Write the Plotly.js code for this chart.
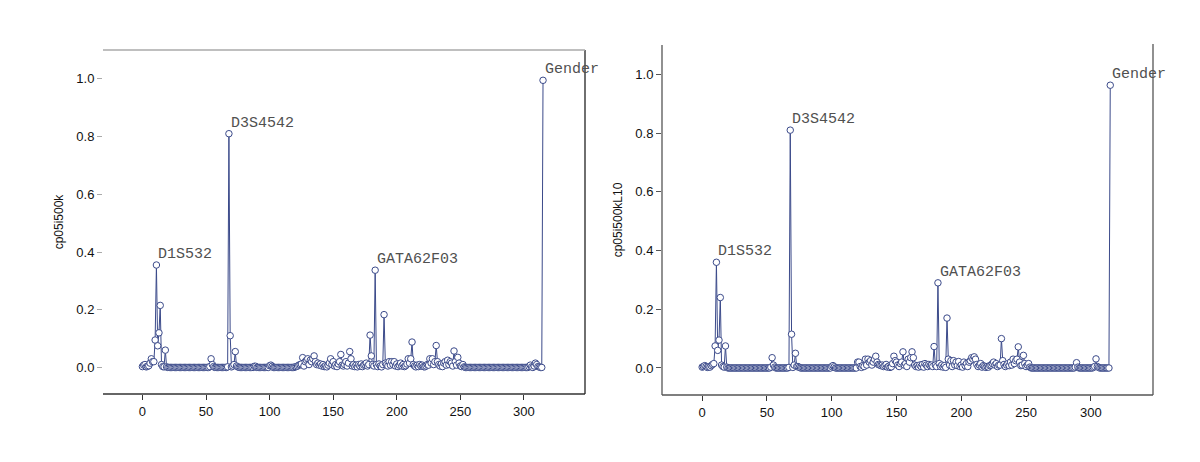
<!DOCTYPE html>
<html>
<head>
<meta charset="utf-8">
<script src="https://cdn.plot.ly/plotly-3.0.1.min.js"></script>
<style>
    html, body { margin: 0; padding: 0; background: #fff; }
    #chart { width: 1200px; height: 462px; }
</style>
</head>
<body>
<div id="chart"></div>
<script>

// marker positions along the genome scan (0..315)
const markerIndex = Array.from({length: 316}, (_, i) => i);

// cp05i500k
const valuesLeft = [
    0.003, 0.008, 0.01, 0.002, 0.004, 0.006, 0.015, 0.03, 0.02, 0.02, 0.095, 0.355, 0.075, 0.12, 0.215, 0.01, 0.003, 0.002, 0.06, 0.002,
    0, 0, 0, 0, 0, 0, 0, 0, 0, 0, 0, 0, 0, 0, 0, 0, 0, 0, 0, 0,
    0, 0, 0, 0, 0, 0, 0, 0, 0, 0, 0, 0, 0, 0.003, 0.03, 0.01, 0.003, 0, 0, 0,
    0, 0, 0, 0, 0, 0, 0, 0.002, 0.81, 0.11, 0.002, 0.005, 0.01, 0.055, 0.005, 0.002, 0, 0, 0, 0,
    0, 0, 0, 0, 0, 0, 0, 0, 0.004, 0.004, 0, 0, 0, 0, 0, 0, 0, 0, 0, 0,
    0.006, 0.008, 0.004, 0, 0, 0, 0, 0, 0, 0, 0, 0, 0, 0, 0, 0, 0, 0, 0, 0,
    0.002, 0.003, 0.005, 0.008, 0.01, 0.012, 0.034, 0.005, 0.02, 0.025, 0.03, 0.01, 0.025, 0.02, 0.03, 0.04, 0.02, 0.01, 0.015, 0.008,
    0.012, 0.005, 0.01, 0.003, 0.006, 0.002, 0.008, 0.015, 0.03, 0.01, 0.02, 0.005, 0.01, 0.003, 0.012, 0.02, 0.045, 0.008, 0.005, 0.01,
    0.02, 0.005, 0.015, 0.055, 0.03, 0.005, 0.01, 0.003, 0.008, 0.002, 0.01, 0.005, 0.012, 0.003, 0.008, 0.01, 0.015, 0.005, 0.01, 0.112,
    0.04, 0.01, 0.005, 0.337, 0.01, 0.003, 0.012, 0.005, 0.002, 0.01, 0.183, 0.015, 0.01, 0.005, 0.02, 0.008, 0.02, 0.01, 0.02, 0.005,
    0.012, 0.003, 0.008, 0.015, 0.005, 0.01, 0.003, 0.006, 0.012, 0.03, 0.015, 0.03, 0.088, 0.01, 0.005, 0.002, 0.008, 0.003, 0.01, 0.005,
    0.008, 0.003, 0.002, 0.005, 0.01, 0.008, 0.03, 0.015, 0.03, 0.01, 0.02, 0.076, 0.02, 0.01, 0.005, 0.012, 0.003, 0.015, 0.02, 0.008,
    0.025, 0.01, 0.02, 0.015, 0.005, 0.057, 0.02, 0.008, 0.035, 0.015, 0.005, 0.003, 0.01, 0.002, 0, 0, 0, 0, 0, 0,
    0, 0, 0, 0, 0, 0, 0, 0, 0, 0, 0, 0, 0, 0, 0, 0, 0, 0, 0, 0,
    0, 0, 0, 0, 0, 0, 0, 0, 0, 0, 0, 0, 0, 0, 0, 0, 0, 0, 0, 0,
    0, 0, 0, 0, 0.003, 0.008, 0.002, 0, 0.005, 0.015, 0.01, 0.003, 0.002, 0, 0, 0.995
];

// cp05i500kL10
const valuesRight = [
    0.003, 0.005, 0.008, 0.005, 0.002, 0.004, 0.003, 0.008, 0.012, 0.015, 0.075, 0.36, 0.06, 0.095, 0.24, 0.01, 0.005, 0.003, 0.075, 0.003,
    0, 0, 0, 0, 0, 0, 0, 0, 0, 0, 0, 0, 0, 0, 0, 0, 0, 0, 0, 0,
    0, 0, 0, 0, 0, 0, 0, 0, 0, 0, 0, 0, 0, 0.003, 0.035, 0.01, 0.003, 0, 0, 0,
    0, 0, 0, 0, 0, 0, 0, 0.002, 0.81, 0.115, 0.002, 0.01, 0.05, 0.005, 0.005, 0.002, 0, 0, 0, 0,
    0, 0, 0, 0, 0, 0, 0, 0, 0, 0, 0, 0, 0, 0, 0, 0, 0, 0, 0, 0,
    0.005, 0.008, 0.004, 0, 0, 0, 0, 0, 0, 0, 0, 0, 0, 0, 0, 0, 0, 0, 0, 0,
    0.02, 0.02, 0.005, 0.002, 0.008, 0.005, 0.03, 0.01, 0.03, 0.02, 0.025, 0.01, 0.02, 0.03, 0.04, 0.02, 0.012, 0.01, 0.008, 0.01,
    0.005, 0.008, 0.012, 0.003, 0.006, 0.002, 0.004, 0.015, 0.04, 0.025, 0.02, 0.01, 0.005, 0.015, 0.02, 0.055, 0.01, 0.015, 0.005, 0.03,
    0.02, 0.035, 0.055, 0.035, 0.01, 0.005, 0.008, 0.003, 0.01, 0.005, 0.012, 0.003, 0.015, 0.01, 0.005, 0.012, 0.008, 0.01, 0.005, 0.073,
    0.01, 0.005, 0.29, 0.015, 0.005, 0.01, 0.003, 0.008, 0.002, 0.17, 0.03, 0.01, 0.025, 0.005, 0.025, 0.01, 0.02, 0.008, 0.022, 0.005,
    0.01, 0.003, 0.02, 0.008, 0.015, 0.005, 0.02, 0.025, 0.035, 0.03, 0.038, 0.03, 0.012, 0.005, 0.01, 0.015, 0.003, 0.008, 0.005, 0.002,
    0.005, 0.003, 0.008, 0.01, 0.015, 0.02, 0.01, 0.015, 0.005, 0.01, 0.01, 0.1, 0.025, 0.012, 0.005, 0.01, 0.015, 0.008, 0.02, 0.01,
    0.03, 0.015, 0.025, 0.03, 0.072, 0.02, 0.008, 0.01, 0.043, 0.015, 0.005, 0.01, 0.015, 0.003, 0, 0, 0, 0, 0, 0,
    0, 0, 0, 0, 0, 0, 0, 0, 0, 0, 0, 0, 0, 0, 0, 0, 0, 0, 0, 0,
    0, 0, 0, 0, 0, 0, 0, 0, 0.003, 0.018, 0.003, 0, 0, 0, 0, 0, 0, 0, 0, 0,
    0, 0, 0.002, 0.005, 0.031, 0.005, 0.002, 0, 0, 0, 0, 0, 0, 0, 0, 0.963
];

// named peaks
const peakNames = ["D1S532", "D3S4542", "GATA62F03", "Gender"];
const peakIndexLeft = [11, 68, 183, 315];
const peakIndexRight = [11, 68, 182, 315];

const xTicks = [0, 50, 100, 150, 200, 250, 300];
const yTicks = [0, 0.2, 0.4, 0.6, 0.8, 1.0];

const LINE_COLOR = "#3b4a8a";
const TICK_FONT = { family: "Liberation Sans, Arial, sans-serif", size: 13, color: "#111" };
const LABEL_FONT = { family: "Courier New, Liberation Mono, monospace", size: 15, color: "#505050" };

function make_trace(y, xa, ya){
    return {
        type: "scatter",
        mode: "lines+markers",
        x: markerIndex,
        y: y,
        xaxis: xa,
        yaxis: ya,
        line: { color: LINE_COLOR, width: 1 },
        marker: { symbol: "circle", size: 6.5, color: "#fff", line: { color: LINE_COLOR, width: 1 } },
        showlegend: false,
        hoverinfo: "skip",
    };
}

function make_labels(values, idx, xa, ya){
    return peakNames.map((name, k) => ({
        x: idx[k],
        y: values[idx[k]],
        xref: xa,
        yref: ya,
        text: name,
        showarrow: false,
        xanchor: "left",
        yanchor: "bottom",
        font: LABEL_FONT,
    }));
}

function x_axis(domain, anchor){
    return {
        domain: domain, anchor: anchor,
        range: [-31, 348],
        tickvals: xTicks,
        ticks: "outside", ticklen: 5, tickcolor: "#333",
        tickfont: TICK_FONT,
        showgrid: false, zeroline: false, showline: false,
    };
}

function y_axis(domain, anchor, title, tickcolor){
    return {
        domain: domain, anchor: anchor,
        range: [-0.092, 1.1],
        tickvals: yTicks,
        tickformat: ".1f",
        ticks: "outside", ticklen: 5, tickcolor: tickcolor,
        tickfont: TICK_FONT,
        title: { text: title, font: { family: "Liberation Sans, Arial, sans-serif", size: 12, color: "#111" }, standoff: 10 },
        showgrid: false, zeroline: false, showline: false,
    };
}

function border(xref, yref, x0, y0, x1, y1, color){
    return { type: "line", xref: xref, yref: yref, x0: x0, y0: y0, x1: x1, y1: y1, line: { color: color, width: 1.3 } };
}

const W = 1200, H = 462;

const layout = {
    width: W, height: H,
    margin: { l: 0, r: 0, t: 0, b: 0 },
    paper_bgcolor: "#fff",
    plot_bgcolor: "#fff",
    xaxis: x_axis([103 / W, 585 / W], "y"),
    yaxis: y_axis([(H - 394) / H, (H - 50) / H], "x", "cp05i500k", "#aaa"),
    xaxis2: x_axis([662 / W, 1153 / W], "y2"),
    yaxis2: y_axis([(H - 395) / H, (H - 45) / H], "x2", "cp05i500kL10", "#555"),
    shapes: [
        border("x domain", "y domain", 0, 0, 1, 0, "#333"),
        border("x domain", "y domain", 1, 0, 1, 1, "#222"),
        border("x domain", "y domain", 0, 1, 1, 1, "#aaa"),
        border("x2 domain", "y2 domain", 0, 0, 1, 0, "#555"),
        border("x2 domain", "y2 domain", 0, 0, 0, 1, "#555"),
        border("x2 domain", "y2 domain", 1, 0, 1, 1.003, "#555"),
    ],
    annotations: [].concat(
        make_labels(valuesLeft, peakIndexLeft, "x", "y"),
        make_labels(valuesRight, peakIndexRight, "x2", "y2")
    ),
};

const traces = [
    make_trace(valuesLeft, "x", "y"),
    make_trace(valuesRight, "x2", "y2"),
];

Plotly.newPlot("chart", traces, layout, { displayModeBar: false, staticPlot: true });

</script>
</body>
</html>
